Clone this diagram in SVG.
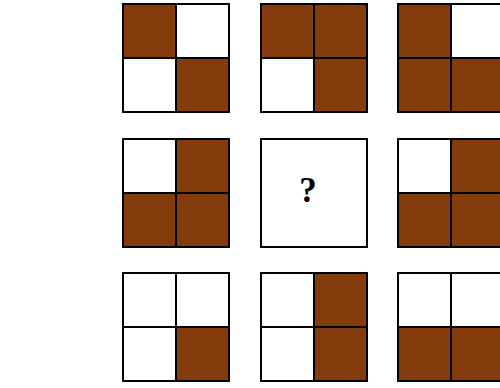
<svg xmlns="http://www.w3.org/2000/svg" width="500" height="388" viewBox="0 0 500 388">
<style>
.c{stroke:#000;stroke-width:2;fill:#fff}
.b{fill:#843C0C}
.q{font-family:"Liberation Serif",serif;font-weight:bold;font-size:35px;text-anchor:middle}
</style>
<rect width="500" height="388" fill="#fff"/>
<g id="r1c1" transform="translate(123,4)">
<rect class="c b" x="0" y="0" width="53" height="54"/><rect class="c" x="53" y="0" width="53" height="54"/>
<rect class="c" x="0" y="54" width="53" height="54"/><rect class="c b" x="53" y="54" width="53" height="54"/>
</g>
<g id="r1c2" transform="translate(261,4)">
<rect class="c b" x="0" y="0" width="53" height="54"/><rect class="c b" x="53" y="0" width="53" height="54"/>
<rect class="c" x="0" y="54" width="53" height="54"/><rect class="c b" x="53" y="54" width="53" height="54"/>
</g>
<g id="r1c3" transform="translate(398,4)">
<rect class="c b" x="0" y="0" width="53" height="54"/><rect class="c" x="53" y="0" width="53" height="54"/>
<rect class="c b" x="0" y="54" width="53" height="54"/><rect class="c b" x="53" y="54" width="53" height="54"/>
</g>
<g id="r2c1" transform="translate(123,139)">
<rect class="c" x="0" y="0" width="53" height="54"/><rect class="c b" x="53" y="0" width="53" height="54"/>
<rect class="c b" x="0" y="54" width="53" height="54"/><rect class="c b" x="53" y="54" width="53" height="54"/>
</g>
<g id="r2c2" transform="translate(261,139)">
<rect class="c" x="0" y="0" width="106" height="108"/>
<text class="q" x="47" y="62.5">?</text>
</g>
<g id="r2c3" transform="translate(398,139)">
<rect class="c" x="0" y="0" width="53" height="54"/><rect class="c b" x="53" y="0" width="53" height="54"/>
<rect class="c b" x="0" y="54" width="53" height="54"/><rect class="c b" x="53" y="54" width="53" height="54"/>
</g>
<g id="r3c1" transform="translate(123,273)">
<rect class="c" x="0" y="0" width="53" height="54"/><rect class="c" x="53" y="0" width="53" height="54"/>
<rect class="c" x="0" y="54" width="53" height="54"/><rect class="c b" x="53" y="54" width="53" height="54"/>
</g>
<g id="r3c2" transform="translate(261,273)">
<rect class="c" x="0" y="0" width="53" height="54"/><rect class="c b" x="53" y="0" width="53" height="54"/>
<rect class="c" x="0" y="54" width="53" height="54"/><rect class="c b" x="53" y="54" width="53" height="54"/>
</g>
<g id="r3c3" transform="translate(398,273)">
<rect class="c" x="0" y="0" width="53" height="54"/><rect class="c" x="53" y="0" width="53" height="54"/>
<rect class="c b" x="0" y="54" width="53" height="54"/><rect class="c b" x="53" y="54" width="53" height="54"/>
</g>
<g id="connectors"/>
</svg>
